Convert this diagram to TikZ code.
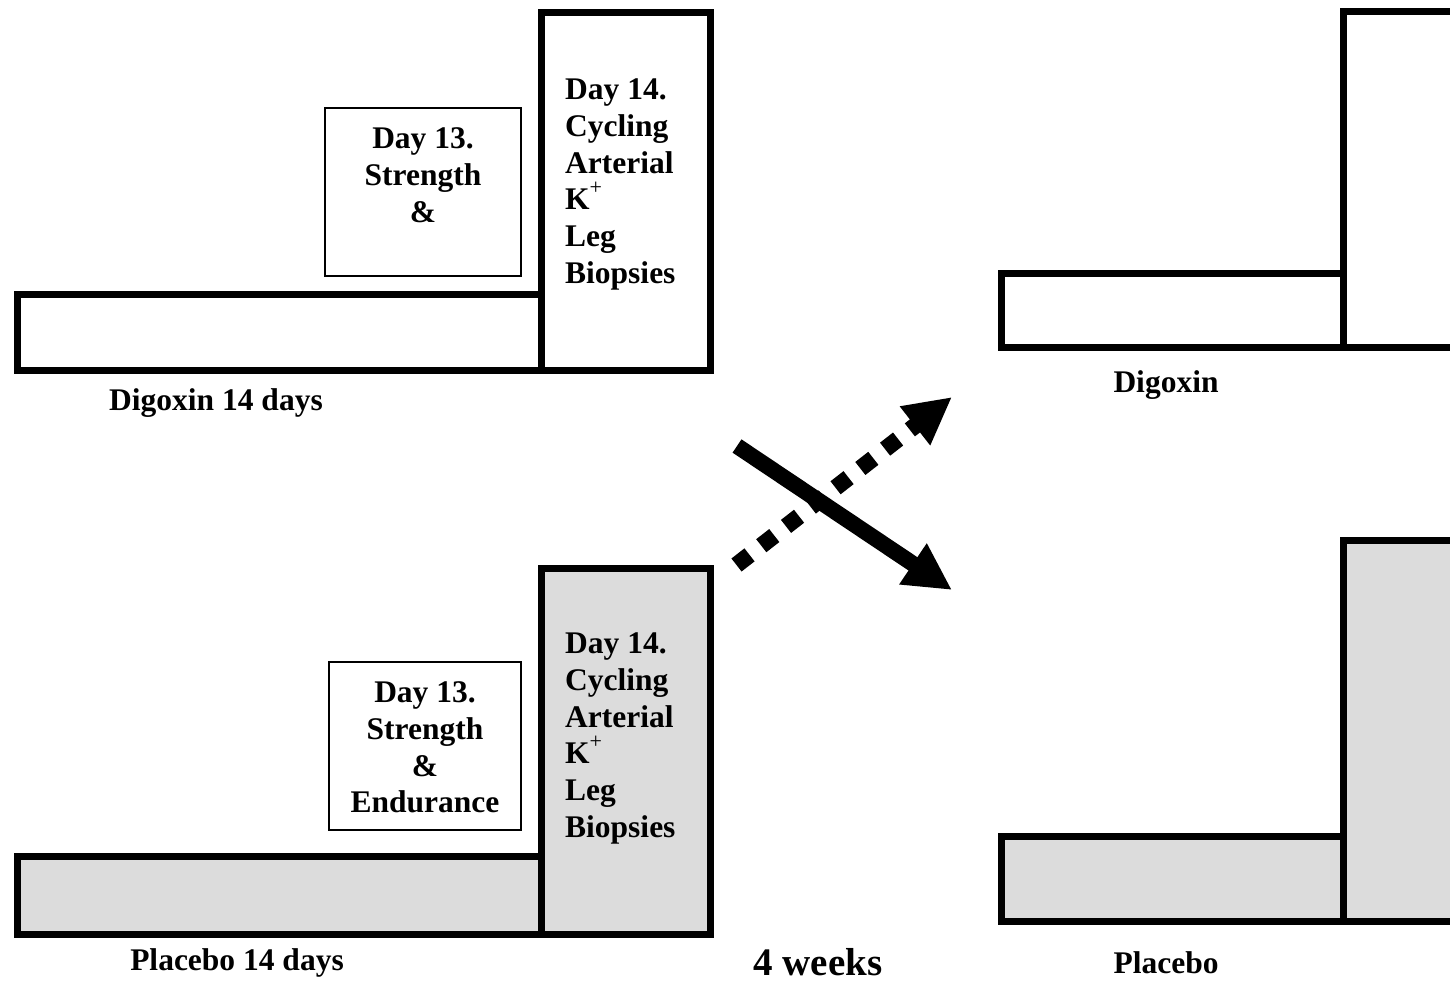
\documentclass[tikz,border=0pt]{standalone}
\usepackage{fontspec}
\setmainfont{Liberation Serif}
\usetikzlibrary{arrows.meta}
\definecolor{boxgrey}{HTML}{DCDCDC}
\newcommand{\kplus}{K\smash{\raisebox{15pt}{\fontsize{22}{22}\selectfont\mdseries +}}}
\tikzset{
  heavybox/.style={draw=black, line width=7pt, inner sep=0pt, outer sep=0pt},
  lightbox/.style={draw=black, line width=1.5pt, inner sep=0pt, outer sep=0pt},
  greyfill/.style={fill=boxgrey},
  bodytext/.style={font=\fontsize{31.5}{36.7}\selectfont\bfseries, inner sep=0pt},
  labeltext/.style={font=\fontsize{31.5}{36.7}\selectfont\bfseries, inner sep=0pt},
  bigarrow/.style={line width=16pt, -{Triangle[length=47pt,width=46pt]}},
  dotarrow/.style={line width=16.5pt, dash pattern=on 16.5pt off 14.9pt, -{Triangle[length=47pt,width=46pt]}}
}
\begin{document}
\begin{tikzpicture}[x=1pt,y=-1pt]
\useasboundingbox (0,0) rectangle (1450,982);
\clip (0,0) rectangle (1450,982);
\fill[white] (0,0) rectangle (1450,982);

% ---- top left (Digoxin) ----
\node[heavybox, minimum width=524pt, minimum height=76pt] (bar1) at (279,332) {};
\node[heavybox, minimum width=169pt, minimum height=357pt] (tall1) at (625.5,191.5) {};
\node[lightbox, minimum width=196pt, minimum height=168pt] (d13a) at (423,192) {};
\node[bodytext, anchor=north, align=center] (d13atext) at (423,127.7) {Day 13.\\Strength\\\&};
\node[bodytext, anchor=north west, align=left] (t1) at (565,78.7) {Day 14.\\Cycling\\Arterial\\\kplus\\Leg\\Biopsies};
\node[labeltext] (lab1) at (216,403) {Digoxin 14 days};

% ---- bottom left (Placebo) ----
\node[heavybox, greyfill, minimum width=524pt, minimum height=78pt] (bar2) at (279,895.5) {};
\node[heavybox, greyfill, minimum width=169pt, minimum height=366pt] (tall2) at (625.5,751.5) {};
\node[lightbox, fill=white, minimum width=192pt, minimum height=168pt] (d13b) at (425,746) {};
\node[bodytext, anchor=north, align=center] (d13btext) at (425,681.7) {Day 13.\\Strength\\\&\\Endurance};
\node[bodytext, anchor=north west, align=left] (t2) at (565,632.7) {Day 14.\\Cycling\\Arterial\\\kplus\\Leg\\Biopsies};
\node[labeltext] (lab2) at (237,963) {Placebo 14 days};

% ---- right top (Digoxin) ----
\node[heavybox, minimum width=342pt, minimum height=74pt] (bar3) at (1172,310.5) {};
\node[heavybox, anchor=north west, minimum width=300pt, minimum height=336pt] (tall3) at (1343,11.5) {};
\node[labeltext] (lab3) at (1166,385) {Digoxin};

% ---- right bottom (Placebo) ----
\node[heavybox, greyfill, minimum width=342pt, minimum height=85pt] (bar4) at (1172,878.5) {};
\node[heavybox, greyfill, anchor=north west, minimum width=300pt, minimum height=381pt] (tall4) at (1343,540) {};
\node[labeltext] (lab4) at (1166,963) {Placebo};

% ---- middle ----
\node[font=\fontsize{39}{45}\selectfont\bfseries, inner sep=0pt] (weeks) at (818,962) {4 weeks};

\coordinate (s1) at (737,446);
\coordinate (e1) at (952,590);
\coordinate (s2) at (736.5,565);
\coordinate (e2) at (952,397);
\draw[dotarrow] (s2) -- (e2);
\draw[bigarrow] (s1) -- (e1);
\end{tikzpicture}
\end{document}
